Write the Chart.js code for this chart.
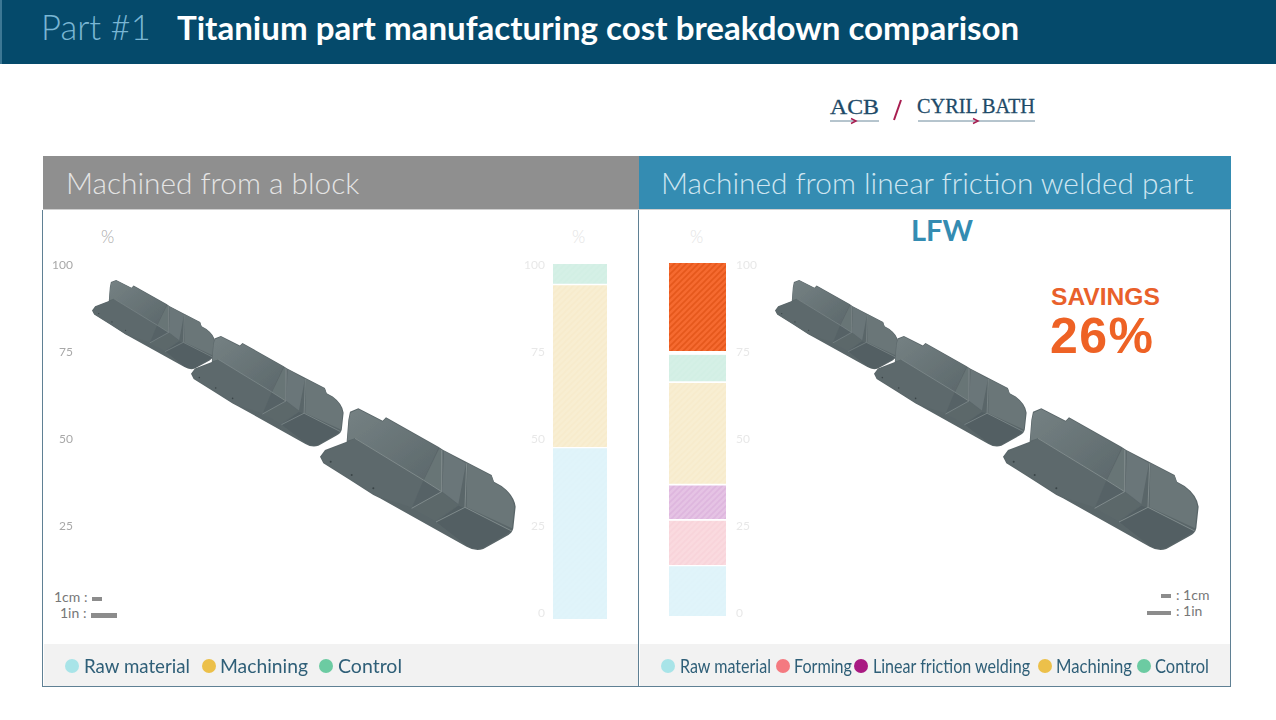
<html>
  <head>
   <title>Titanium part manufacturing cost breakdown comparison</title>
   <script src="https://cdn.jsdelivr.net/npm/chart.js@4"></script>
   <style>
    body{ margin:0; background:#fff; width:1276px; height:720px; overflow:hidden; font-family:Lato,sans-serif; position:relative; }
    .abs{ position:absolute; white-space:nowrap; }
    canvas{ position:absolute; }
    #topbar{ left:0; top:0; width:1276px; height:64px; background:#054a6b; border-left:2px solid #3d7895; box-sizing:border-box; }
    .panel{ position:absolute; top:210px; height:477px; box-sizing:border-box; border:1.5px solid #5f8094; border-top:none; }
    .strip{ position:absolute; top:644px; height:42px; background:#f2f2f2; }
    .head{ position:absolute; top:156px; height:54px; color:#e4e4e4; font-size:29.8px; font-weight:300; line-height:54px; box-sizing:border-box; border-bottom:1px solid #cfcfcf; white-space:nowrap; }
    .pct{ position:absolute; font-size:17px; font-weight:300; }
    .scale{ position:absolute; font-size:14px; color:#777; white-space:nowrap; }
    .bar{ position:absolute; background:#8c8c8c; }
    .dot{ position:absolute; top:659px; width:14px; height:14px; border-radius:7px; }
    .legtext{ position:absolute; top:652px; font-size:20px; line-height:26px; color:#2f5f78; white-space:nowrap; transform-origin:left center; }
   </style>
  </head>

  <body>
    <!--title bar-->
    <div class="abs" id="topbar"></div>
    <div class="abs" style="left:41px;top:6px;font-size:34.6px;font-weight:300;color:#79b6d4">Part #1</div>
    <div class="abs" style="left:177px;top:7px;font-size:33.1px;font-weight:700;color:#fff">Titanium part manufacturing cost breakdown comparison</div>

    <!--panels-->
    <div class="head" style="left:43px;width:596px;background:#8f8f8f;padding-left:23px">Machined from a block</div>
    <div class="head" style="left:639px;width:592px;background:#348cb2;padding-left:22px;color:#cfe6f1">Machined from linear friction welded part</div>
    <div class="strip" style="left:44px;width:594px"></div>
    <div class="strip" style="left:640px;width:590px"></div>
    <div class="panel" style="left:42px;width:597px"></div>
    <div class="panel" style="left:638px;width:593px"></div>

    <!--part drawings and logos-->
    <svg class="abs" width="1276" height="720" style="left:0;top:0">
      <defs>
        <linearGradient id="web" x1="0" y1="0" x2="1" y2="1">
          <stop offset="0" stop-color="#758183"/><stop offset="1" stop-color="#5c686b"/>
        </linearGradient>
        <filter id="soft"><feGaussianBlur stdDeviation="1.6"/></filter>
        <g id="part">
          <path fill="#5a6669" d="M120 35 L145 25 L218 62 L228 52 L385 140 L400 150 L545 225 L552 245 L575 258 Q612 285 617 320 L610 385 Q607 400 590 408 L520 447 Q495 455 470 440 L210 295 L190 285 L120 240 L40 190 L30 170 L45 150 L110 125 L115 60 Z"/>
          <g filter="url(#soft)">
            <path fill="url(#web)" d="M122 38 L145 28 L218 65 L228 55 L385 143 L340 240 L135 115 L112 122 L117 60 Z"/>
            <path fill="#5d696c" d="M34 170 L47 153 L110 128 L135 115 L340 240 L305 322 L210 292 L190 282 L120 237 L42 188 Z"/>
            <path fill="#687476" d="M388 145 L400 153 L395 275 L342 240 Z"/>
            <path fill="#6b7679" d="M402 153 L468 190 L445 312 L397 275 Z"/>
            <path fill="#566266" d="M340 242 L395 277 L307 323 Z"/>
            <path fill="#5c686b" d="M395 277 L445 315 L375 362 L307 325 Z"/>
            <path fill="#6a7678" d="M472 190 L545 228 L552 248 L575 261 Q608 286 613 320 L606 385 L470 322 Z"/>
            <path fill="#535f63" d="M445 317 L470 326 L603 392 L587 404 L518 444 Q495 451 470 437 L378 365 Z"/>
            <path fill="none" stroke="#7f8b8c" stroke-width="3" d="M135 115 L340 240 L395 275 L305 325 M395 150 L395 275 M470 190 L465 322 L378 366 M465 322 L605 393"/>
          </g>
          <circle cx="62" cy="185" r="3" fill="#3a4447"/><circle cx="125" cy="225" r="3" fill="#3a4447"/><circle cx="190" cy="265" r="3" fill="#3a4447"/>
        </g>
      </defs>
      <use href="#part" transform="translate(85.7,274.7) scale(0.21)"/>
      <use href="#part" transform="translate(183.2,329.5) scale(0.26)"/>
      <use href="#part" transform="translate(310,400) scale(0.3333)"/>
      <use href="#part" transform="translate(768.7,274.7) scale(0.21)"/>
      <use href="#part" transform="translate(866.2,329.5) scale(0.26)"/>
      <use href="#part" transform="translate(993,400) scale(0.3333)"/>

      <text x="830" y="114" font-family="Liberation Serif" font-size="22" fill="#1e4a68" stroke="#1e4a68" stroke-width="0.3" textLength="49" lengthAdjust="spacingAndGlyphs">ACB</text>
      <line x1="830" y1="121" x2="879" y2="121" stroke="#6d8a9c" stroke-width="1"/>
      <path d="M851 118.5 L856 121 L851 123.5" fill="none" stroke="#a81e50" stroke-width="1.5"/>
      <line x1="901" y1="100" x2="894" y2="120" stroke="#a81e50" stroke-width="2"/>
      <text x="917" y="113" font-family="Liberation Serif" font-size="22" fill="#1e4a68" stroke="#1e4a68" stroke-width="0.3" textLength="118" lengthAdjust="spacingAndGlyphs">CYRIL BATH</text>
      <line x1="918" y1="121" x2="1035" y2="121" stroke="#6d8a9c" stroke-width="1"/>
      <path d="M973 118.5 L978 121 L973 123.5" fill="none" stroke="#a81e50" stroke-width="1.5"/>
    </svg>

    <!--callouts-->
    <div class="abs" style="left:911px;top:212px;font-size:29px;font-weight:700;color:#348cb2">LFW</div>
    <div class="abs" style="left:1051px;top:283px;font-size:24.6px;font-weight:700;color:#e9602a;line-height:27px;font-family:'Liberation Sans'">SAVINGS</div>
    <div class="abs" style="left:1050px;top:311px;font-size:50px;font-weight:700;color:#ee6225;line-height:50px;font-family:'Liberation Sans';letter-spacing:1.5px">26%</div>

    <div class="pct" style="left:101px;top:226px;color:#a8a8a8">%</div>
    <div class="pct" style="left:572px;top:226px;color:#e4e4e4">%</div>
    <div class="pct" style="left:690px;top:226px;color:#e4e4e4">%</div>

    <!--scale keys-->
    <div class="scale" style="left:54px;top:588px">1cm :</div>
    <div class="scale" style="left:60px;top:604px">1in :</div>
    <div class="bar" style="left:92px;top:597px;width:10px;height:4px"></div>
    <div class="bar" style="left:91px;top:613px;width:26px;height:5px"></div>
    <div class="bar" style="left:1161px;top:594px;width:10px;height:4px"></div>
    <div class="bar" style="left:1147px;top:611px;width:24px;height:4px"></div>
    <div class="scale" style="left:1176px;top:586px">: 1cm</div>
    <div class="scale" style="left:1176px;top:602px">: 1in</div>

    <!--charts-->
    <canvas id="axis-block-far" width="50" height="372" style="left:52px;top:253px"></canvas>
    <canvas id="axis-block-near" width="50" height="372" style="left:524px;top:253px"></canvas>
    <canvas id="axis-lfw" width="50" height="372" style="left:707px;top:253px"></canvas>
    <canvas id="bar-block" width="54" height="355" style="left:553px;top:264px"></canvas>
    <canvas id="bar-lfw" width="57" height="353" style="left:669px;top:263px"></canvas>

    <div id="legends"></div>
  </body>

  <script>
    // cost shares in %, bottom to top
    var blockCategories = ["Raw material", "Machining", "Control"];
    var blockValues = [48, 46, 6];
    var lfwCategories = ["Raw material", "Forming", "Linear friction welding", "Machining", "Control", "Savings"];
    var lfwValues = [14, 13, 10, 29, 8, 26];
    var tickValues = [0, 25, 50, 75, 100];
    var farTickValues = [25, 50, 75, 100];

    var barColors = {
      "Raw material": ["#e0f4fa", "#dff3f9"],
      "Forming": ["#fadadf", "#f8d4da"],
      "Linear friction welding": ["#e5c3e4", "#deb6de"],
      "Machining": ["#f8eed2", "#f7ebcc"],
      "Control": ["#d5f0e6", "#d2efe4"],
      "Savings": ["#f56a30", "#e5581c"]
    };
    var dotColors = {
      "Raw material": "#a8e4e8",
      "Forming": "#f47a80",
      "Linear friction welding": "#a91a82",
      "Machining": "#ecc04a",
      "Control": "#6ccba2"
    };

    Chart.defaults.animation = false;
    Chart.defaults.font.family = "Lato";

    function stripes(colors){
      var c = document.createElement("canvas");
      c.width = 6; c.height = 6;
      var g = c.getContext("2d");
      g.fillStyle = colors[0];
      g.fillRect(0, 0, 6, 6);
      g.strokeStyle = colors[1];
      g.lineWidth = 1.6;
      g.beginPath();
      g.moveTo(-2, 8); g.lineTo(8, -2);
      g.moveTo(-2, 2); g.lineTo(2, -2);
      g.moveTo(4, 8); g.lineTo(8, 4);
      g.stroke();
      return g.createPattern(c, "repeat");
    }

    function barChart(id, categories, values){
      var sets = [];
      for (var i = 0; i < categories.length; i++){
        sets.push({
          label: categories[i],
          data: [values[i]],
          backgroundColor: stripes(barColors[categories[i]]),
          borderColor: "#ffffff",
          borderSkipped: false,
          // white seam under each segment, the savings block sits a bit apart
          borderWidth: {top: 0, right: 0, left: 0, bottom: categories[i] == "Savings" ? 4 : (i == 0 ? 0 : 2)},
          barPercentage: 1,
          categoryPercentage: 1
        });
      }
      new Chart(document.getElementById(id), {
        type: "bar",
        data: { labels: ["%"], datasets: sets },
        options: {
          responsive: false,
          layout: { padding: 0 },
          plugins: { legend: { display: false }, tooltip: { enabled: false } },
          scales: {
            x: { stacked: true, display: false },
            y: { stacked: true, display: false, min: 0, max: 100 }
          }
        }
      });
    }

    function axisChart(id, ticks, side, color){
      new Chart(document.getElementById(id), {
        type: "bar",
        data: { labels: [""], datasets: [] },
        options: {
          responsive: false,
          layout: { padding: { top: 12, bottom: 12 } },
          plugins: { legend: { display: false }, tooltip: { enabled: false } },
          scales: {
            x: { display: false },
            y: {
              position: side, min: 0, max: 100,
              afterBuildTicks: function(axis){ axis.ticks = ticks.map(function(v){ return {value: v}; }); },
              grid: { display: false, drawTicks: false },
              border: { display: false },
              ticks: { color: color, padding: 0, font: { size: 12 } }
            }
          }
        }
      });
    }

    barChart("bar-block", blockCategories, blockValues);
    barChart("bar-lfw", lfwCategories, lfwValues);
    axisChart("axis-block-far", farTickValues, "left", "#a8a8a8");
    axisChart("axis-block-near", tickValues, "left", "#e8e8e8");
    axisChart("axis-lfw", tickValues, "right", "#e8e8e8");

    // legend rows: dot x, text x, text width
    function legendRow(names, places, size){
      var box = document.getElementById("legends");
      names.forEach(function(name, i){
        var d = document.createElement("div");
        d.className = "dot";
        d.style.left = places[i][0] + "px";
        d.style.background = dotColors[name];
        box.appendChild(d);
        var t = document.createElement("div");
        t.className = "legtext";
        t.textContent = name;
        t.style.left = places[i][1] + "px";
        t.style.fontSize = size + "px";
        box.appendChild(t);
        t.style.transform = "scaleX(" + (places[i][2] / t.getBoundingClientRect().width) + ")";
      });
    }
    legendRow(["Raw material", "Machining", "Control"],
      [[65, 84, 106], [202, 220, 88], [319, 338, 64]], 20);
    legendRow(["Raw material", "Forming", "Linear friction welding", "Machining", "Control"],
      [[661, 680, 91], [776, 794, 58], [854, 873, 157], [1038, 1056, 76], [1137, 1155, 54]], 20);
  </script>
</html>
